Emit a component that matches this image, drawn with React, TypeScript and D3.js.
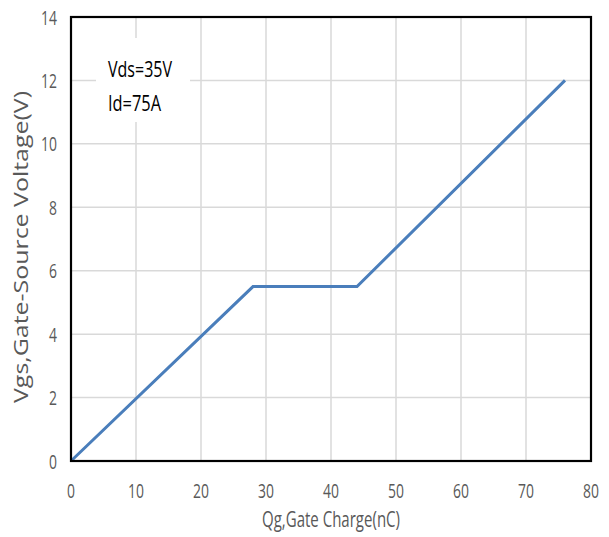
import React from "react";
import * as d3 from "d3";

const qg: number[] = [0, 28, 44, 76];
const vgs: number[] = [0, 5.5, 5.5, 12];
const xTicks: number[] = [0, 10, 20, 30, 40, 50, 60, 70, 80];
const yTicks: number[] = [0, 2, 4, 6, 8, 10, 12, 14];
const notes: string[] = ["Vds=35V", "Id=75A"];
const xTitle = "Qg,Gate Charge(nC)";
const yTitle = "Vgs,Gate-Source Voltage(V)";

const W = 609, H = 537;
const L = 71, R = 591, T = 17, B = 461;
const font = "'Open Sans', sans-serif";

export default function App() {
  const x = d3.scaleLinear().domain([0, 80]).range([L, R]);
  const y = d3.scaleLinear().domain([0, 14]).range([B, T]);
  const pts = qg.map((q, i) => [q, vgs[i]] as [number, number]);
  const line = d3.line<[number, number]>().x(d => x(d[0])).y(d => y(d[1]));
  const sx = 0.68;
  return (
    <svg width={W} height={H} style={{ position: "absolute", left: 0, top: 0, background: "#fff" }}>
      <rect x={0} y={0} width={W} height={H} fill="#fff" />
      {xTicks.map(t => (
        <line key={"gx" + t} x1={x(t)} x2={x(t)} y1={T} y2={B} stroke="#d9d9d9" strokeWidth={1.5} />
      ))}
      {yTicks.map(t => (
        <line key={"gy" + t} x1={L} x2={R} y1={y(t)} y2={y(t)} stroke="#d9d9d9" strokeWidth={1.5} />
      ))}
      <rect x={96} y={38} width={94} height={84} fill="#fff" />
      <path d={line(pts) || ""} fill="none" stroke="#4a7ebb" strokeWidth={3} strokeLinejoin="miter" />
      <rect x={L} y={T} width={R - L} height={B - T} fill="none" stroke="#000" strokeWidth={2.2} />
      {xTicks.map(t => (
        <text key={"tx" + t} transform={`translate(${x(t)},498) scale(${sx},1)`} textAnchor="middle" fontFamily={font} fontSize={20.5} fill="#595959">{t}</text>
      ))}
      {yTicks.map(t => (
        <text key={"ty" + t} transform={`translate(57,${y(t) + 7.5}) scale(${sx},1)`} textAnchor="end" fontFamily={font} fontSize={20.5} fill="#595959">{t}</text>
      ))}
      <text x={108} y={77} fontFamily={font} fontSize={22} fill="#000" textLength={64} lengthAdjust="spacingAndGlyphs">{notes[0]}</text>
      <text x={108} y={111} fontFamily={font} fontSize={22} fill="#000" textLength={53} lengthAdjust="spacingAndGlyphs">{notes[1]}</text>
      <text x={(L + R) / 2 - 69} y={527} fontFamily={font} fontSize={22} fill="#595959" textLength={138} lengthAdjust="spacingAndGlyphs">{xTitle}</text>
      <text transform={`translate(28,403) rotate(-90)`} fontFamily={font} fontSize={20} fill="#595959" textLength={312} lengthAdjust="spacingAndGlyphs">{yTitle}</text>
    </svg>
  );
}
